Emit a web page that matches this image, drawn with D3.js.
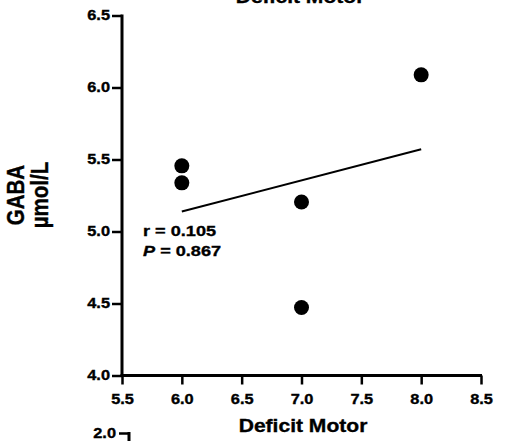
<!DOCTYPE html>
<html>
<head>
<meta charset="utf-8">
<script src="https://cdn.jsdelivr.net/npm/d3@7"></script>
<style>
    body { margin: 0; background: #fff; }
    svg { display: block; }
    text {
        font-family: "Liberation Sans", Arial, sans-serif;
        font-weight: bold;
        fill: #000;
        stroke: #000;
        stroke-width: 0.35px;
    }
</style>
</head>
<body>
<svg id="chart" width="521" height="441"></svg>
<script>
// deficit motor score vs GABA
const motorScores = [6.0, 6.0, 7.0, 7.0, 8.0];
const gabaValues = [5.456, 5.338, 5.205, 4.472, 6.088];
const xTicks = [5.5, 6.0, 6.5, 7.0, 7.5, 8.0, 8.5];
const yTicks = [4.0, 4.5, 5.0, 5.5, 6.0, 6.5];
const statLines = [
    { label: "r", value: "0.105", italic: false },
    { label: "P", value: "0.867", italic: true },
];
const nextPanelTicks = [2.0];

// the glyphs in the original are a bit wider than Arial, stretch them
const STRETCH = 1.17;

const svg = d3.select("#chart");

const x = d3.scaleLinear().domain([5.5, 8.5]).range([122, 481]);
const y = d3.scaleLinear().domain([4.0, 6.5]).range([375.5, 15.5]);

/**** AXES ****/

const xAxis = svg.append("g")
    .attr("transform", `translate(0, ${y(4.0)})`)
    .call(d3.axisBottom(x).tickValues(xTicks).tickFormat(d3.format(".1f"))
        .tickSize(9).tickPadding(10).tickSizeOuter(0));

const yAxis = svg.append("g")
    .attr("transform", `translate(${x(5.5)}, 0)`)
    .call(d3.axisLeft(y).tickValues(yTicks).tickFormat(d3.format(".1f"))
        .tickSize(10).tickSizeOuter(0));

[xAxis, yAxis].forEach(axis => {
    axis.select(".domain").attr("stroke", "#000").attr("stroke-width", 3);
    axis.selectAll(".tick line").attr("stroke", "#000").attr("stroke-width", 2.5);
    axis.selectAll(".tick text")
        .attr("font-size", 14)
        .attr("font-family", null)
        .attr("fill", "#000");
});

// the y axis line runs through the x axis corner
yAxis.select(".domain").attr("d", `M0,${y(6.5) - 1}V${y(4.0) + 1.5}`);
xAxis.select(".domain").attr("d", `M${x(5.5) - 1.5},0H${x(8.5) + 1}`);

xAxis.selectAll(".tick text").attr("transform", `scale(${STRETCH},1)`);
yAxis.selectAll(".tick text")
    .attr("x", 0)
    .attr("transform", `translate(-12,0) scale(${STRETCH},1)`);

/**** POINTS + FIT ****/

const meanX = d3.mean(motorScores);
const meanY = d3.mean(gabaValues);
const slope = d3.sum(motorScores, (v, i) => (v - meanX) * (gabaValues[i] - meanY))
    / d3.sum(motorScores, v => (v - meanX) ** 2);
const intercept = meanY - slope * meanX;
const fitX = d3.extent(motorScores);

svg.append("line")
    .attr("x1", x(fitX[0]))
    .attr("y1", y(intercept + slope * fitX[0]))
    .attr("x2", x(fitX[1]))
    .attr("y2", y(intercept + slope * fitX[1]))
    .attr("stroke", "#000")
    .attr("stroke-width", 2);

svg.append("g")
    .selectAll("circle")
    .data(motorScores)
    .join("circle")
    .attr("cx", d => x(d))
    .attr("cy", (d, i) => y(gabaValues[i]))
    .attr("r", 7.5)
    .attr("fill", "#000");

/**** TEXT ****/

const stats = svg.append("g");
statLines.forEach((s, i) => {
    let t = stats.append("text")
        .attr("transform", `translate(143, ${236 + i * 20}) scale(${STRETCH},1)`)
        .attr("font-size", 15.5);
    t.append("tspan").attr("font-style", s.italic ? "italic" : null).text(s.label);
    t.append("tspan").text(` = ${s.value}`);
});

svg.append("text")
    .attr("transform", `translate(303, 432) scale(${STRETCH},1)`)
    .attr("text-anchor", "middle")
    .attr("font-size", 18)
    .text("Deficit Motor");

// title of this panel, cut by the top edge as in the original
svg.append("text")
    .attr("transform", `translate(300, 3) scale(${STRETCH},1)`)
    .attr("text-anchor", "middle")
    .attr("font-size", 18)
    .text("Deficit Motor");

[["GABA", 24], ["µmol/L", 48]].forEach(([label, bx]) => {
    svg.append("text")
        .attr("transform", `translate(${bx}, 195) scale(${STRETCH},1) rotate(-90)`)
        .attr("text-anchor", "middle")
        .attr("font-size", 20.5)
        .text(label);
});

/**** NEXT PANEL (cut by the bottom edge) ****/

const yNext = d3.scaleLinear().domain([0, 2.0]).range([700, 433]);
const nextAxis = svg.append("g")
    .attr("transform", "translate(129, 0)")
    .call(d3.axisLeft(yNext).tickValues(nextPanelTicks).tickFormat(d3.format(".1f"))
        .tickSize(10).tickSizeOuter(0));
nextAxis.select(".domain").attr("stroke", "#000").attr("stroke-width", 3)
    .attr("d", `M0,${yNext(2.0) - 1}V${yNext(0)}`);
nextAxis.selectAll(".tick line").attr("stroke", "#000").attr("stroke-width", 2.5);
nextAxis.selectAll(".tick text")
    .attr("font-size", 14)
    .attr("font-family", null)
    .attr("fill", "#000")
    .attr("x", 0)
    .attr("transform", `translate(-13,0) scale(${STRETCH},1)`);
</script>
</body>
</html>
